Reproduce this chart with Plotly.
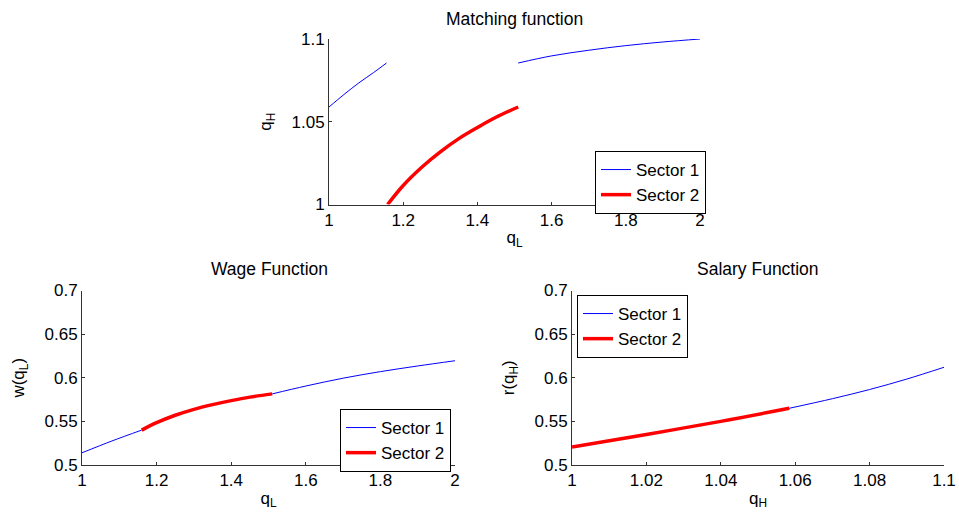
import plotly.graph_objects as go

# ---- Matching function q_H(q_L) ----
match_s1a_x = [1.0, 1.04, 1.08, 1.12, 1.155]
match_s1a_y = [1.0589, 1.0664, 1.0734, 1.0797, 1.0855]
match_s1b_x = [1.51, 1.6, 1.7, 1.8, 1.9, 2.0]
match_s1b_y = [1.0855, 1.0898, 1.0932, 1.0960, 1.0982, 1.1000]
match_s2_x = [1.158, 1.2, 1.25, 1.3, 1.35, 1.4, 1.45, 1.51]
match_s2_y = [1.0, 1.0115, 1.0225, 1.0318, 1.0398, 1.0465, 1.0527, 1.0589]

# ---- Wage function w(q_L) ----
wage_s1a_x = [1.0, 1.08, 1.16]
wage_s1a_y = [0.5140, 0.5275, 0.5400]
wage_s2_x = [1.16, 1.2, 1.25, 1.3, 1.35, 1.4, 1.45, 1.51]
wage_s2_y = [0.5400, 0.5485, 0.5570, 0.5638, 0.5692, 0.5738, 0.5778, 0.5815]
wage_s1b_x = [1.51, 1.6, 1.7, 1.8, 1.9, 2.0]
wage_s1b_y = [0.5815, 0.5905, 0.5995, 0.6070, 0.6135, 0.6195]

# ---- Salary function r(q_H) ----
sal_s2_x = [1.0, 1.02, 1.04, 1.0584]
sal_s2_y = [0.5205, 0.5350, 0.5500, 0.5650]
sal_s1_x = [1.0584, 1.07, 1.08, 1.09, 1.1]
sal_s1_y = [0.5650, 0.5760, 0.5865, 0.5985, 0.6120]

x_ticks_L = [1, 1.2, 1.4, 1.6, 1.8, 2]
x_ticks_H = [1, 1.02, 1.04, 1.06, 1.08, 1.1]
y_ticks_match = [1, 1.05, 1.1]
y_ticks_money = [0.5, 0.55, 0.6, 0.65, 0.7]

BLUE = "#0000ff"
RED = "#ff0000"
FONT = "Liberation Sans, Arial, sans-serif"
TICK_SIZE = 17
LABEL_SIZE = 17
TITLE_SIZE = 17.5
LEGEND_SIZE = 17

fig = go.Figure()


def add_curve(x, y, color, width, xa, ya, name, legend, show):
    fig.add_trace(go.Scatter(
        x=x, y=y, mode="lines", line=dict(color=color, width=width, shape="spline"),
        xaxis=xa, yaxis=ya, name=name, legend=legend, showlegend=show,
        hoverinfo="skip"))


def add_key(color, width, xa, ya, name, legend):
    # legend-only entry
    fig.add_trace(go.Scatter(x=[None], y=[None], mode="lines",
                             line=dict(color=color, width=width),
                             xaxis=xa, yaxis=ya, name=name, legend=legend))


# top panel
add_curve(match_s1a_x, match_s1a_y, BLUE, 1, "x", "y", "Sector 1", "legend", True)
add_curve(match_s1b_x, match_s1b_y, BLUE, 1, "x", "y", "Sector 1", "legend", False)
add_curve(match_s2_x, match_s2_y, RED, 3.5, "x", "y", "Sector 2", "legend", True)

# bottom-left panel
add_curve(wage_s1a_x, wage_s1a_y, BLUE, 1, "x2", "y2", "Sector 1", "legend2", False)
add_curve(wage_s1b_x, wage_s1b_y, BLUE, 1, "x2", "y2", "Sector 1", "legend2", False)
add_curve(wage_s2_x, wage_s2_y, RED, 3.5, "x2", "y2", "Sector 2", "legend2", False)
add_key(BLUE, 1, "x2", "y2", "Sector 1", "legend2")
add_key(RED, 3.5, "x2", "y2", "Sector 2", "legend2")

# bottom-right panel
add_curve(sal_s2_x, sal_s2_y, RED, 3.5, "x3", "y3", "Sector 2", "legend3", False)
add_curve(sal_s1_x, sal_s1_y, BLUE, 1, "x3", "y3", "Sector 1", "legend3", True)
add_key(RED, 3.5, "x3", "y3", "Sector 2", "legend3")

axis_common = dict(showline=True, linecolor="#333333", linewidth=1, ticks="inside",
                   ticklen=3, tickcolor="#333333", showgrid=False, zeroline=False,
                   automargin=False,
                   tickfont=dict(family=FONT, size=TICK_SIZE, color="#000000"),
                   mirror=False)


def xax(domain, rng, ticks, title, anchor):
    return dict(axis_common, domain=domain, range=rng, tickvals=ticks,
                ticktext=[f"{t:g}" for t in ticks], anchor=anchor,
                title=dict(text=title, font=dict(family=FONT, size=LABEL_SIZE, color="#000"),
                           standoff=2))


def yax(domain, rng, ticks, title, anchor):
    return dict(axis_common, domain=domain, range=rng, tickvals=ticks,
                ticktext=[f"{t:g}" for t in ticks], anchor=anchor,
                title=dict(text=title, font=dict(family=FONT, size=LABEL_SIZE, color="#000")))


def legend_box(x, y, xanchor):
    return dict(x=x, y=y, xanchor=xanchor, yanchor="top",
                bgcolor="white", bordercolor="#000", borderwidth=1,
                font=dict(family=FONT, size=LEGEND_SIZE, color="#000"),
                tracegroupgap=0, itemwidth=30)


def panel_title(text, x, y):
    return dict(text=text, x=x / W, y=1 - y / H, xref="paper", yref="paper",
                xanchor="center", yanchor="middle", showarrow=False,
                font=dict(family=FONT, size=TITLE_SIZE, color="#000"))


W, H = 959, 518
fig.update_layout(
    width=W, height=H, margin=dict(l=0, r=0, t=0, b=0, autoexpand=False),
    paper_bgcolor="white", plot_bgcolor="white",
    font=dict(family=FONT, color="#000"),
    xaxis=xax([329 / W, 700 / W], [1, 2], x_ticks_L, "q<sub>L</sub>", "y"),
    yaxis=yax([1 - 204.5 / H, 1 - 39 / H], [1, 1.1], y_ticks_match, "q<sub>H</sub>", "x"),
    xaxis2=xax([82 / W, 455 / W], [1, 2], x_ticks_L, "q<sub>L</sub>", "y2"),
    yaxis2=yax([1 - 465 / H, 1 - 290.5 / H], [0.5, 0.7], y_ticks_money, "w(q<sub>L</sub>)", "x2"),
    xaxis3=xax([572 / W, 944 / W], [1, 1.1], x_ticks_H, "q<sub>H</sub>", "y3"),
    yaxis3=yax([1 - 465 / H, 1 - 290.5 / H], [0.5, 0.7], y_ticks_money, "r(q<sub>H</sub>)", "x3"),
    legend=legend_box(706 / W, 1 - 151 / H, "right"),
    legend2=legend_box(451 / W, 1 - 409 / H, "right"),
    legend3=legend_box(577 / W, 1 - 295 / H, "left"),
    annotations=[
        panel_title("Matching function", 514, 19),
        panel_title("Wage Function", 269, 269),
        panel_title("Salary Function", 758, 269),
    ],
)

fig.write_html("out.html")
